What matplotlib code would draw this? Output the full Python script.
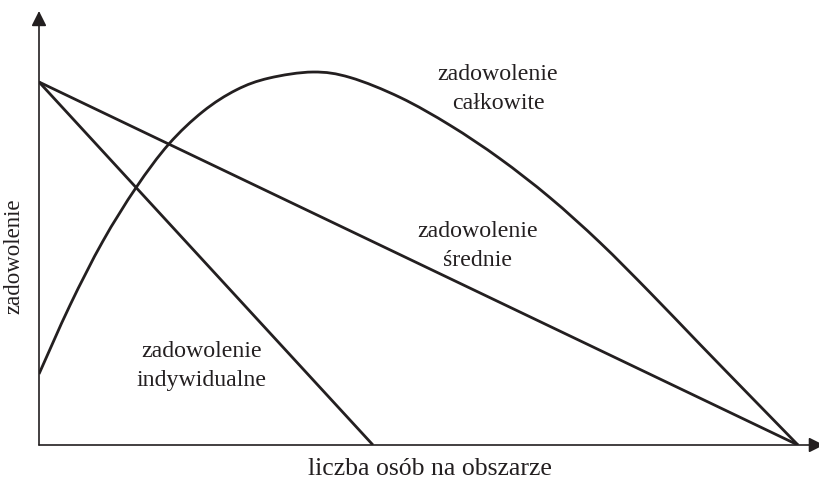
import matplotlib
matplotlib.use("Agg")
import matplotlib.pyplot as plt
from matplotlib.path import Path
from matplotlib.patches import PathPatch

# data (arbitrary units)
x_ind = [0.0, 4.40]
y_ind = [100.0, 0.0]
x_avg = [0.0, 10.0]
y_avg = [100.0, 0.0]
x_tot = [0.0, 0.41, 0.84, 1.28, 1.71, 2.16, 2.60, 3.03, 3.61, 4.10, 4.76,
         5.42, 6.07, 6.73, 7.39, 8.05, 8.71, 9.37, 10.0]
y_tot = [19.56, 38.57, 56.09, 70.94, 82.89, 91.87, 97.82, 101.07, 102.75, 101.24, 95.73,
         88.02, 78.93, 68.18, 55.79, 42.01, 27.69, 13.50, 0.0]

labels = {
    "total": "zadowolenie\ncałkowite",
    "avg": "zadowolenie\nśrednie",
    "ind": "zadowolenie\nindywidualne",
}
xlabel = "liczba osób na obszarze"
ylabel = "zadowolenie"

plt.rcParams["font.family"] = ["Liberation Serif", "DejaVu Serif"]

W, H = 820, 481
fig = plt.figure(figsize=(W / 100, H / 100), dpi=100)
ax = fig.add_axes([39 / W, 35 / H, (820 - 39) / W, (446 - 12) / H])
ax.set_xlim(0, (820 - 39) / 75.9)
ax.set_ylim(0, (446 - 12) / 3.63)
ax.axis("off")

lw = 2.0
col = "#231f20"
ax.plot(x_ind, y_ind, color=col, lw=lw, solid_capstyle="butt")
ax.plot(x_avg, y_avg, color=col, lw=lw, solid_capstyle="butt")


def smooth_path(xs, ys):
    # Catmull-Rom through the read points, as cubic Bezier segments
    pts = list(zip(xs, ys))
    verts = [pts[0]]
    codes = [Path.MOVETO]
    n = len(pts)
    for i in range(n - 1):
        p0 = pts[i - 1] if i > 0 else pts[i]
        p1 = pts[i]
        p2 = pts[i + 1]
        p3 = pts[i + 2] if i + 2 < n else pts[i + 1]
        c1 = (p1[0] + (p2[0] - p0[0]) / 6, p1[1] + (p2[1] - p0[1]) / 6)
        c2 = (p2[0] - (p3[0] - p1[0]) / 6, p2[1] - (p3[1] - p1[1]) / 6)
        verts += [c1, c2, p2]
        codes += [Path.CURVE4] * 3
    return Path(verts, codes)


ax.add_patch(PathPatch(smooth_path(x_tot, y_tot), facecolor="none",
                       edgecolor=col, lw=lw, capstyle="butt"))

# axes with arrows
acol = "#231f20"
ax.annotate("", xy=(0, 1.0), xytext=(0, 0), xycoords="axes fraction",
            arrowprops=dict(arrowstyle="-|>,head_length=0.9,head_width=0.45",
                            color=acol, lw=1.2, shrinkA=0, shrinkB=0),
            annotation_clip=False)
ax.annotate("", xy=(1.005, 0), xytext=(0, 0), xycoords="axes fraction",
            arrowprops=dict(arrowstyle="-|>,head_length=0.9,head_width=0.45",
                            color=acol, lw=1.2, shrinkA=0, shrinkB=0),
            annotation_clip=False)

fs = 17.2
tcol = "#231f20"
ls = 1.45


def px(xp, yp):
    return (xp - 39) / 75.9, (446 - yp) / 3.63


ax.text(*px(498, 89), labels["total"], ha="center", va="center",
        fontsize=fs, color=tcol, linespacing=ls)
ax.text(*px(478, 246), labels["avg"], ha="center", va="center",
        fontsize=fs, color=tcol, linespacing=ls)
ax.text(*px(202, 366), labels["ind"], ha="center", va="center",
        fontsize=fs, color=tcol, linespacing=ls)

fig.text(430 / W, 1 - 469 / H, xlabel, ha="center", va="center", fontsize=18.5, color=tcol)
fig.text(14 / W, 1 - 256 / H, ylabel, ha="center", va="center", rotation=90,
         fontsize=16.5, color=tcol)

fig.savefig("out.png", dpi=100)
